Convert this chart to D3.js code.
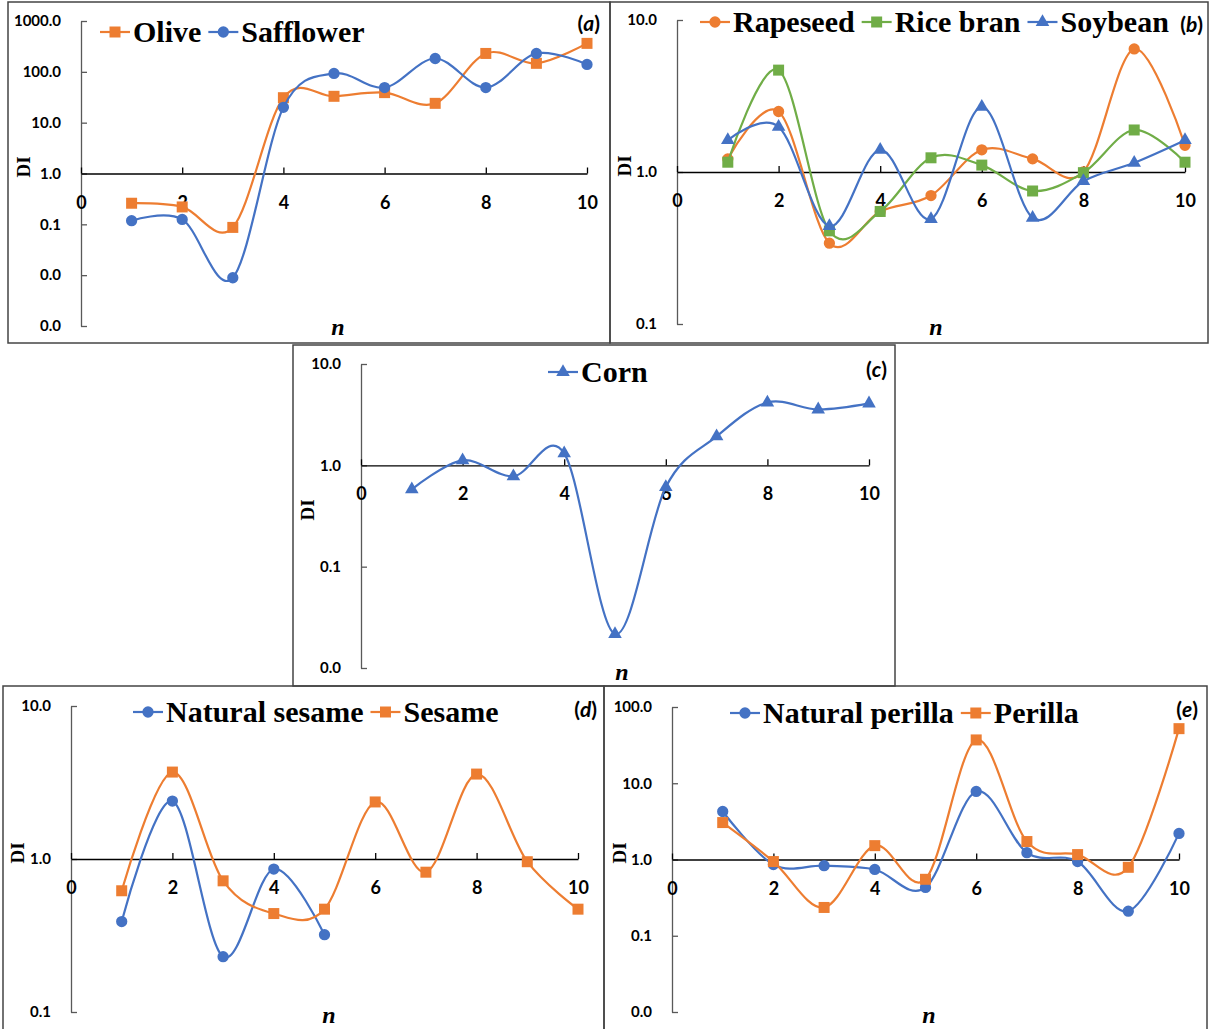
<!DOCTYPE html>
<html>
<head>
<meta charset="utf-8">
<script src="https://cdn.jsdelivr.net/npm/d3@7"></script>
<style>
  body { margin: 0; background: #fff; }
  svg { display: block; }
</style>
</head>
<body>
<svg id="chart" width="1212" height="1029"></svg>
<script>
// shared x values / ticks
const nValues = [1, 2, 3, 4, 5, 6, 7, 8, 9, 10];
const xTicks = [0, 2, 4, 6, 8, 10];

// (a) Olive / Safflower
const olive = [0.26, 0.22, 0.087, 31, 33, 39, 24, 230, 147, 363];
const safflower = [0.118, 0.125, 0.0089, 20, 93, 49, 183, 49, 230, 140];
const yTicksA = [0.001, 0.01, 0.1, 1, 10, 100, 1000];

// (b) Rapeseed / Rice bran / Soybean
const rapeseed = [1.22, 2.5, 0.34, 0.55, 0.70, 1.40, 1.22, 1.0, 6.45, 1.5];
const riceBran = [1.16, 4.68, 0.41, 0.55, 1.24, 1.11, 0.75, 0.99, 1.89, 1.16];
const soybean = [1.62, 1.98, 0.44, 1.40, 0.49, 2.68, 0.50, 0.87, 1.15, 1.62];
const yTicksB = [0.1, 1, 10];

// (c) Corn
const corn = [0.58, 1.12, 0.78, 1.31, 0.0216, 0.61, 1.93, 4.17, 3.56, 4.08];
const yTicksC = [0.01, 0.1, 1, 10];

// (d) Natural sesame / Sesame
const naturalSesame = [0.39, 2.39, 0.23, 0.86, 0.32];
const sesame = [0.62, 3.7, 0.72, 0.44, 0.47, 2.36, 0.82, 3.59, 0.96, 0.47];
const yTicksD = [0.1, 1, 10];

// (e) Natural perilla / Perilla
const naturalPerilla = [4.26, 0.86, 0.83, 0.74, 0.43, 7.8, 1.23, 0.94, 0.21, 2.2];
const perilla = [3.05, 0.94, 0.235, 1.52, 0.55, 37, 1.72, 1.16, 0.79, 52];
const yTicksE = [0.01, 0.1, 1, 10, 100];

// excel-ish colours
const ORANGE = "#ED7D31", BLUE = "#4472C4", GREEN = "#70AD47";

const svg = d3.select("#chart");
const sansFont = "Lato, 'Open Sans', sans-serif";
const serifFont = "'Liberation Serif', 'DejaVu Serif', serif";

const markerSize = { square: 121, circle: 100, triangle: 80 };
const markerType = { square: d3.symbolSquare, circle: d3.symbolCircle, triangle: d3.symbolTriangle };

const panels = [
  {
    tag: "a", frame: [8, 2, 602, 341],
    left: 81, right: 587, top: 21, bottom: 326,
    yDomain: [0.001, 1000], yTicks: yTicksA,
    di: [23, 167], nLab: [338, 335], tagPos: [600, 31],
    legend: [100, 42],
    series: [
      { name: "Olive", values: olive, color: ORANGE, marker: "square" },
      { name: "Safflower", values: safflower, color: BLUE, marker: "circle" }
    ]
  },
  {
    tag: "b", frame: [610, 2, 598, 341],
    left: 677, right: 1185, top: 20, bottom: 324,
    yDomain: [0.1, 10], yTicks: yTicksB,
    di: [624, 166], nLab: [936, 335], tagPos: [1203, 32],
    legend: [700, 32],
    series: [
      { name: "Rapeseed", values: rapeseed, color: ORANGE, marker: "circle" },
      { name: "Rice bran", values: riceBran, color: GREEN, marker: "square" },
      { name: "Soybean", values: soybean, color: BLUE, marker: "triangle" }
    ]
  },
  {
    tag: "c", frame: [293, 345, 602, 341],
    left: 361, right: 869, top: 364, bottom: 668,
    yDomain: [0.01, 10], yTicks: yTicksC,
    di: [307, 510], nLab: [622, 680], tagPos: [887, 377],
    legend: [548, 382],
    series: [
      { name: "Corn", values: corn, color: BLUE, marker: "triangle" }
    ]
  },
  {
    tag: "d", frame: [3, 686, 601, 345],
    left: 71, right: 578, top: 706, bottom: 1012,
    yDomain: [0.1, 10], yTicks: yTicksD,
    di: [17, 853], nLab: [329, 1023], tagPos: [597, 717],
    legend: [133, 722],
    series: [
      { name: "Natural sesame", values: naturalSesame, color: BLUE, marker: "circle" },
      { name: "Sesame", values: sesame, color: ORANGE, marker: "square" }
    ]
  },
  {
    tag: "e", frame: [604, 686, 603, 345],
    left: 672, right: 1179, top: 707, bottom: 1012,
    yDomain: [0.01, 100], yTicks: yTicksE,
    di: [619, 853], nLab: [929, 1023], tagPos: [1198, 717],
    legend: [730, 723],
    series: [
      { name: "Natural perilla", values: naturalPerilla, color: BLUE, marker: "circle" },
      { name: "Perilla", values: perilla, color: ORANGE, marker: "square" }
    ]
  }
];

function drawPanel(p) {
  const g = svg.append("g").attr("class", "panel-" + p.tag);

  // frame
  g.append("rect")
    .attr("x", p.frame[0]).attr("y", p.frame[1])
    .attr("width", p.frame[2]).attr("height", p.frame[3])
    .attr("fill", "none").attr("stroke", "#444").attr("stroke-width", 1.5);

  const x = d3.scaleLinear().domain([0, 10]).range([p.left, p.right]);
  const y = d3.scaleLog().domain(p.yDomain).range([p.bottom, p.top]);

  // y axis, ticks pointing inward
  const yAxis = d3.axisLeft(y)
    .tickValues(p.yTicks)
    .tickFormat(d3.format(".1f"))
    .tickSizeInner(-6).tickSizeOuter(0).tickPadding(20);
  const ya = g.append("g").attr("transform", `translate(${p.left},0)`).call(yAxis);
  ya.select(".domain").attr("stroke", "#595959").attr("stroke-width", 1.3);
  ya.selectAll(".tick line").attr("stroke", "#595959").attr("stroke-width", 1.3);
  ya.selectAll("text")
    .attr("font-family", sansFont).attr("font-weight", 700)
    .attr("font-size", 15).attr("fill", "#000");

  // x axis crossing at DI = 1
  const xAxis = d3.axisBottom(x)
    .tickValues(xTicks)
    .tickSizeInner(-6).tickSizeOuter(0);
  const xa = g.append("g").attr("transform", `translate(0,${y(1)})`).call(xAxis);
  xa.select(".domain").attr("stroke", "#000").attr("stroke-width", 1.3);
  xa.selectAll(".tick line").attr("stroke", "#000").attr("stroke-width", 1.3);
  xa.selectAll("text")
    .attr("y", 35).attr("dy", 0)
    .attr("font-family", sansFont).attr("font-weight", 700)
    .attr("font-size", 18).attr("fill", "#000");

  // series
  const line = d3.line()
    .x((d, i) => x(nValues[i]))
    .y(d => y(d))
    .curve(d3.curveCardinal.tension(0));

  p.series.forEach(s => {
    g.append("path")
      .datum(s.values)
      .attr("d", line)
      .attr("fill", "none")
      .attr("stroke", s.color)
      .attr("stroke-width", 2.2);

    g.selectAll(null)
      .data(s.values)
      .enter()
      .append("path")
      .attr("d", d3.symbol().type(markerType[s.marker]).size(markerSize[s.marker]))
      .attr("transform", (d, i) => `translate(${x(nValues[i])},${y(d)})`)
      .attr("fill", s.color);
  });

  // legend
  let lx = p.legend[0];
  const ly = p.legend[1];
  p.series.forEach(s => {
    g.append("line")
      .attr("x1", lx).attr("x2", lx + 30)
      .attr("y1", ly - 10).attr("y2", ly - 10)
      .attr("stroke", s.color).attr("stroke-width", 2.2);
    g.append("path")
      .attr("d", d3.symbol().type(markerType[s.marker]).size(markerSize[s.marker]))
      .attr("transform", `translate(${lx + 15},${ly - 10})`)
      .attr("fill", s.color);
    const t = g.append("text")
      .attr("x", lx + 33).attr("y", ly)
      .attr("font-family", serifFont).attr("font-weight", 700)
      .attr("font-size", 30).attr("fill", "#000")
      .text(s.name);
    lx += 33 + t.node().getComputedTextLength() + 7;
  });

  // axis titles
  g.append("text")
    .attr("transform", `translate(${p.di[0]},${p.di[1]}) rotate(-90)`)
    .attr("text-anchor", "middle").attr("dy", "0.35em")
    .attr("font-family", serifFont).attr("font-weight", 700)
    .attr("font-size", 19).text("DI");

  g.append("text")
    .attr("x", p.nLab[0]).attr("y", p.nLab[1])
    .attr("text-anchor", "middle")
    .attr("font-family", serifFont).attr("font-weight", 700)
    .attr("font-style", "italic").attr("font-size", 24).text("n");

  // panel tag "(a)"
  const tg = g.append("text")
    .attr("x", p.tagPos[0]).attr("y", p.tagPos[1])
    .attr("text-anchor", "end")
    .attr("font-family", sansFont).attr("font-weight", 700)
    .attr("font-size", 21);
  tg.append("tspan").text("(");
  tg.append("tspan").attr("font-style", "italic").text(p.tag);
  tg.append("tspan").text(")");
}

panels.forEach(drawPanel);
</script>
</body>
</html>
